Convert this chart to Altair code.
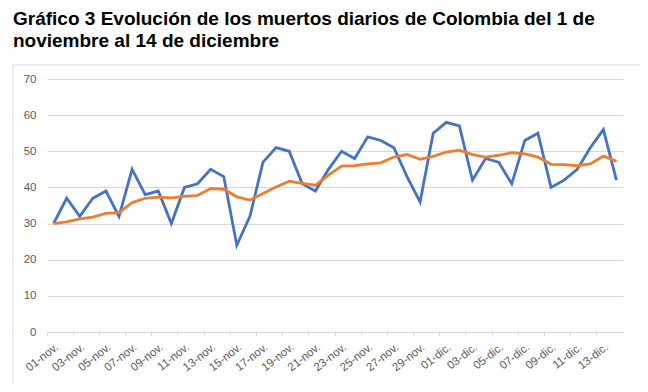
import altair as alt
import pandas as pd

dias = [f"{d:02d}-nov." for d in range(1, 31)] + [f"{d:02d}-dic." for d in range(1, 15)]

muertes = [30, 37, 32, 37, 39, 32, 45, 38, 39, 30,
           40, 41, 45, 43, 24, 32, 47, 51, 50, 41,
           39, 45, 50, 48, 54, 53, 51, 43, 36, 55,
           58, 57, 42, 48, 47, 41, 53, 55, 40, 42,
           45, 51, 56, 42]

promedio = [30, 30.5, 31.3, 31.8, 32.8, 33, 35.8, 37, 37.3, 37.1,
            37.5, 37.8, 39.7, 39.5, 37.4, 36.5, 38.3, 40.1, 41.7, 41.1,
            40.6, 43.4, 45.9, 46, 46.5, 46.8, 48.4, 49.1, 47.8, 48.6,
            49.8, 50.3, 49.1, 48.4, 48.9, 49.6, 49.3, 48.4, 46.4, 46.3,
            46, 46.5, 48.7, 47.2]

y_ticks = [0, 10, 20, 30, 40, 50, 60, 70]

titulo = ["Gráfico 3 Evolución de los muertos diarios de Colombia del 1 de",
          "noviembre al 14 de diciembre"]

df = pd.DataFrame({"dia": dias, "muertes": muertes, "promedio": promedio})

FONT = "Liberation Sans"
GRAY = "#595959"
LIGHT = "#d9d9d9"

x_enc = alt.X(
    "dia:N", sort=dias,
    scale=alt.Scale(type="band", paddingInner=0, paddingOuter=0),
    axis=alt.Axis(values=dias[::2], bandPosition=0, labelOffset=0,
                  labelAngle=322, labelAlign="right", labelBaseline="top",
                  labelPadding=5, tickSize=4, tickColor=LIGHT, domainColor=LIGHT,
                  labelColor=GRAY, labelFont=FONT, labelFontSize=11.5,
                  grid=False, title=None, labelOverlap=False),
)

y_scale = alt.Scale(domain=[0, 70], nice=False)
y_axis = alt.Axis(values=y_ticks, grid=True, gridColor=LIGHT, domain=False, ticks=False,
                  labelPadding=11, labelColor=GRAY, labelFont=FONT, labelFontSize=11.5,
                  title=None, labelOverlap=False)

base = alt.Chart(df)
linea_muertes = base.mark_line(color="#4472C4", strokeWidth=2.8).encode(
    x=x_enc, y=alt.Y("muertes:Q", scale=y_scale, axis=y_axis))
linea_prom = base.mark_line(color="#ED7D31", strokeWidth=2.8).encode(
    x=x_enc, y=alt.Y("promedio:Q", scale=y_scale, axis=y_axis))

marco = alt.Chart(pd.DataFrame({"a": [0]})).mark_rect(
    filled=False, color=LIGHT, strokeWidth=1, strokeOpacity=1).encode(
    x=alt.value(-34), x2=alt.value(594), y=alt.value(-14), y2=alt.value(306))

chart = alt.layer(marco, linea_muertes, linea_prom).properties(
    width=576, height=253,
    title=alt.TitleParams(text=titulo, anchor="start", frame="group", dx=-34,
                          font=FONT, fontSize=19, fontWeight="bold", color="#000000",
                          lineHeight=22, offset=14),
    autosize=alt.AutoSizeParams(type="none"),
    padding={"left": 39, "top": 71, "right": 17, "bottom": 52},
).configure_view(strokeWidth=0)

chart.save("out.html", embed_options={"renderer": "svg", "actions": False})
